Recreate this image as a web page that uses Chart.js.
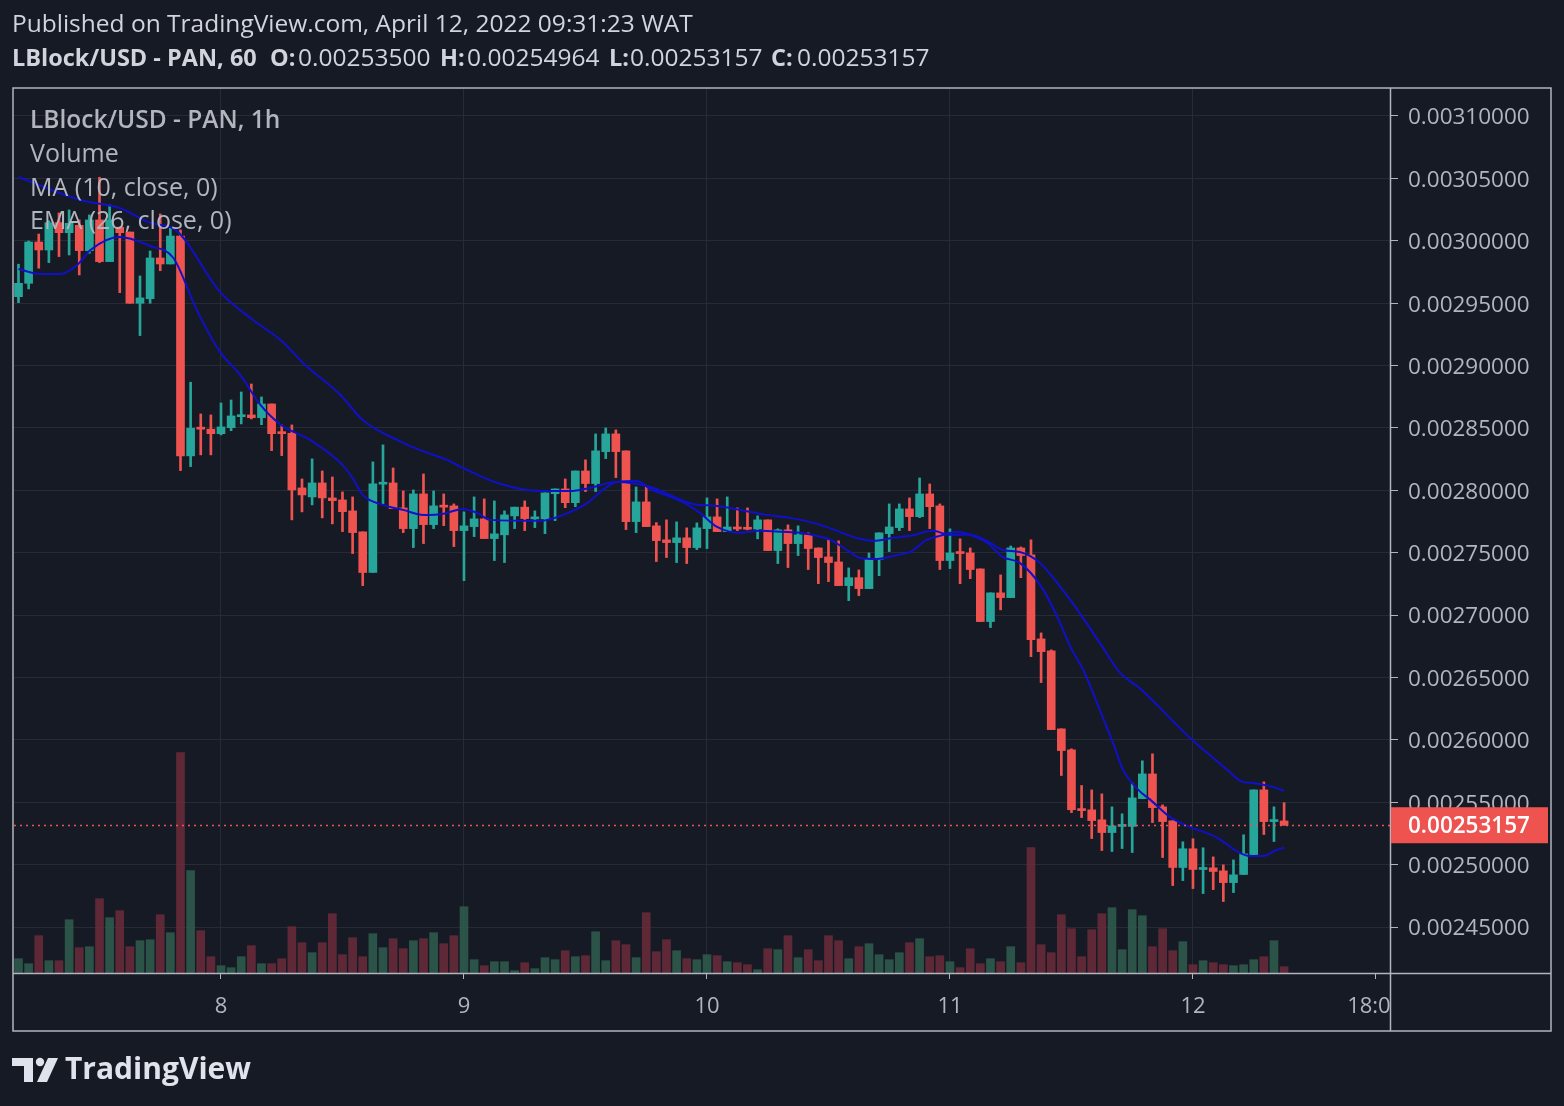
<!DOCTYPE html>
<html>
<head>
<meta charset="utf-8">
<script src="https://cdn.jsdelivr.net/npm/chart.js@4/dist/chart.umd.min.js"></script>
<style>
  html, body { margin: 0; padding: 0; background: #161a25; }
  canvas { display: block; }
</style>
</head>
<body>
<canvas id="chart" width="1564" height="1106"></canvas>
<script>
// hourly candles, 7 Apr 04:00 -> 12 Apr 09:00
const open = [
  0.0029552, 0.0029659, 0.0029990, 0.0029926, 0.0030145, 0.0030065, 0.0030124, 0.0029921, 0.0030167, 0.0029833,
  0.0030108, 0.0030070, 0.0029499, 0.0029536, 0.0029862, 0.0029814, 0.0030038, 0.0028276, 0.0028498, 0.0028490,
  0.0028454, 0.0028502, 0.0028590, 0.0028604, 0.0028582, 0.0028692, 0.0028468, 0.0028457, 0.0028019, 0.0027947,
  0.0028059, 0.0027939, 0.0027923, 0.0027835, 0.0027667, 0.0027341, 0.0028049, 0.0028059, 0.0027859, 0.0027693,
  0.0027971, 0.0027725, 0.0027875, 0.0027875, 0.0027677, 0.0027709, 0.0027771, 0.0027613, 0.0027643, 0.0027795,
  0.0027865, 0.0027771, 0.0027771, 0.0027973, 0.0028011, 0.0027901, 0.0028155, 0.0028054, 0.0028310, 0.0028452,
  0.0028316, 0.0027749, 0.0027907, 0.0027715, 0.0027603, 0.0027581, 0.0027619, 0.0027541, 0.0027693, 0.0027787,
  0.0027669, 0.0027706, 0.0027701, 0.0027690, 0.0027763, 0.0027517, 0.0027683, 0.0027573, 0.0027643, 0.0027538,
  0.0027466, 0.0027426, 0.0027236, 0.0027300, 0.0027212, 0.0027445, 0.0027653, 0.0027701, 0.0027851, 0.0027789,
  0.0027971, 0.0027875, 0.0027437, 0.0027501, 0.0027498, 0.0027370, 0.0026948, 0.0027178, 0.0027140, 0.0027538,
  0.0027482, 0.0026809, 0.0026713, 0.0026088, 0.0025920, 0.0025447, 0.0025439, 0.0025359, 0.0025257, 0.0025306,
  0.0025306, 0.0025529, 0.0025727, 0.0025463, 0.0025351, 0.0024977, 0.0025127, 0.0024961, 0.0024974, 0.0024950,
  0.0024856, 0.0024921, 0.0025081, 0.0025599, 0.0025345, 0.00253500
];
const high = [
  0.0029812, 0.0029998, 0.0030054, 0.0030160, 0.0030223, 0.0030247, 0.0030167, 0.0030207, 0.0030509, 0.0030287,
  0.0030110, 0.0030070, 0.0029718, 0.0029918, 0.0030215, 0.0030103, 0.0030087, 0.0028866, 0.0028612, 0.0028604,
  0.0028700, 0.0028724, 0.0028788, 0.0028852, 0.0028748, 0.0028692, 0.0028524, 0.0028524, 0.0028091, 0.0028252,
  0.0028155, 0.0028107, 0.0027987, 0.0027947, 0.0027667, 0.0028228, 0.0028364, 0.0028179, 0.0027995, 0.0028003,
  0.0028131, 0.0027995, 0.0027971, 0.0027891, 0.0027827, 0.0027947, 0.0027931, 0.0027915, 0.0027835, 0.0027865,
  0.0027915, 0.0027835, 0.0027979, 0.0028011, 0.0028091, 0.0028155, 0.0028244, 0.0028452, 0.0028500, 0.0028484,
  0.0028316, 0.0028027, 0.0028027, 0.0027741, 0.0027763, 0.0027747, 0.0027699, 0.0027739, 0.0027939, 0.0027931,
  0.0027947, 0.0027859, 0.0027859, 0.0027795, 0.0027763, 0.0027691, 0.0027723, 0.0027715, 0.0027659, 0.0027538,
  0.0027603, 0.0027595, 0.0027378, 0.0027362, 0.0027498, 0.0027659, 0.0027891, 0.0027891, 0.0027939, 0.0028099,
  0.0028051, 0.0027891, 0.0027691, 0.0027611, 0.0027538, 0.0027370, 0.0027178, 0.0027322, 0.0027554, 0.0027546,
  0.0027603, 0.0026857, 0.0026721, 0.0026088, 0.0025928, 0.0025634, 0.0025599, 0.0025567, 0.0025463, 0.0025407,
  0.0025655, 0.0025832, 0.0025888, 0.0025479, 0.0025351, 0.0025183, 0.0025207, 0.0025135, 0.0025062, 0.0024998,
  0.0025038, 0.0025239, 0.0025599, 0.0025663, 0.0025463, 0.00254964
];
const low = [
  0.0029504, 0.0029614, 0.0029780, 0.0029825, 0.0029873, 0.0029886, 0.0029726, 0.0029900, 0.0029825, 0.0029833,
  0.0029584, 0.0029499, 0.0029240, 0.0029499, 0.0029760, 0.0029814, 0.0028158, 0.0028190, 0.0028284, 0.0028284,
  0.0028444, 0.0028478, 0.0028532, 0.0028572, 0.0028526, 0.0028318, 0.0028278, 0.0027763, 0.0027827, 0.0027883,
  0.0027779, 0.0027731, 0.0027669, 0.0027493, 0.0027236, 0.0027341, 0.0027893, 0.0027853, 0.0027661, 0.0027541,
  0.0027573, 0.0027693, 0.0027717, 0.0027549, 0.0027276, 0.0027629, 0.0027613, 0.0027437, 0.0027421, 0.0027693,
  0.0027677, 0.0027701, 0.0027653, 0.0027757, 0.0027861, 0.0027869, 0.0027990, 0.0027990, 0.0028254, 0.0028102,
  0.0027685, 0.0027661, 0.0027709, 0.0027429, 0.0027461, 0.0027421, 0.0027413, 0.0027525, 0.0027533, 0.0027669,
  0.0027669, 0.0027677, 0.0027683, 0.0027611, 0.0027517, 0.0027413, 0.0027381, 0.0027477, 0.0027365, 0.0027252,
  0.0027268, 0.0027236, 0.0027116, 0.0027156, 0.0027212, 0.0027316, 0.0027509, 0.0027677, 0.0027677, 0.0027781,
  0.0027693, 0.0027365, 0.0027373, 0.0027252, 0.0027292, 0.0026948, 0.0026900, 0.0027042, 0.0027140, 0.0027300,
  0.0026667, 0.0026459, 0.0026082, 0.0025714, 0.0025417, 0.0025377, 0.0025209, 0.0025113, 0.0025105, 0.0025129,
  0.0025097, 0.0025529, 0.0025337, 0.0025057, 0.0024832, 0.0024872, 0.0024808, 0.0024768, 0.0024800, 0.0024704,
  0.0024776, 0.0024921, 0.0025081, 0.0025241, 0.0025185, 0.00253157
];
const close = [
  0.0029659, 0.0029990, 0.0029926, 0.0030145, 0.0030065, 0.0030140, 0.0029921, 0.0030167, 0.0029833, 0.0030167,
  0.0030065, 0.0029499, 0.0029542, 0.0029862, 0.0029814, 0.0030038, 0.0028276, 0.0028498, 0.0028490, 0.0028454,
  0.0028508, 0.0028596, 0.0028604, 0.0028582, 0.0028692, 0.0028454, 0.0028454, 0.0028003, 0.0027963, 0.0028059,
  0.0027939, 0.0027917, 0.0027829, 0.0027661, 0.0027341, 0.0028051, 0.0028062, 0.0027853, 0.0027693, 0.0027971,
  0.0027725, 0.0027875, 0.0027865, 0.0027677, 0.0027715, 0.0027771, 0.0027613, 0.0027651, 0.0027803, 0.0027865,
  0.0027773, 0.0027781, 0.0027979, 0.0028011, 0.0027901, 0.0028155, 0.0028054, 0.0028316, 0.0028452, 0.0028310,
  0.0027749, 0.0027907, 0.0027709, 0.0027597, 0.0027581, 0.0027619, 0.0027541, 0.0027699, 0.0027787, 0.0027669,
  0.0027706, 0.0027690, 0.0027688, 0.0027763, 0.0027517, 0.0027683, 0.0027573, 0.0027643, 0.0027533, 0.0027461,
  0.0027421, 0.0027236, 0.0027300, 0.0027212, 0.0027453, 0.0027659, 0.0027706, 0.0027851, 0.0027789, 0.0027971,
  0.0027869, 0.0027437, 0.0027498, 0.0027493, 0.0027365, 0.0026948, 0.0027178, 0.0027140, 0.0027538, 0.0027477,
  0.0026803, 0.0026707, 0.0026082, 0.0025914, 0.0025440, 0.0025433, 0.0025353, 0.0025257, 0.0025311, 0.0025314,
  0.0025535, 0.0025727, 0.0025457, 0.0025345, 0.0024977, 0.0025127, 0.0024961, 0.0024974, 0.0024945, 0.0024856,
  0.0024918, 0.0025086, 0.0025599, 0.0025345, 0.0025359, 0.00253157
];
const volume = [
  14.3, 9.3, 37.3, 12.3, 12.3, 53.3, 25.3, 26.3, 74.3, 55.3,
  62.3, 26.3, 32.3, 33.3, 58.3, 40.3, 220.3, 102.3, 42.3, 16.3,
  7.3, 5.3, 16.3, 27.3, 9.3, 9.3, 14.3, 46.3, 30.3, 20.3,
  30.3, 59.3, 18.3, 35.3, 16.3, 39.3, 25.3, 34.3, 24.3, 32.3,
  34.3, 40.3, 29.3, 37.3, 66.3, 13.3, 7.3, 11.3, 11.3, 2.3,
  10.3, 4.3, 15.3, 13.3, 22.3, 16.3, 17.3, 41.3, 12.3, 32.3,
  28.3, 15.3, 60.3, 21.3, 33.3, 22.3, 14.3, 13.3, 18.3, 17.3,
  11.3, 10.3, 8.3, 3.3, 24.3, 23.3, 37.3, 15.3, 23.3, 12.3,
  37.3, 32.3, 14.3, 26.3, 29.3, 18.3, 13.3, 20.3, 30.3, 34.3,
  16.3, 17.3, 11.3, 5.3, 24.3, 9.3, 14.3, 11.3, 26.3, 10.3,
  125.3, 28.3, 20.3, 58.3, 44.3, 16.3, 43.3, 59.3, 65.3, 23.3,
  63.3, 57.3, 26.3, 44.3, 22.3, 31.3, 8.3, 12.3, 10.3, 8.3,
  7.3, 8.3, 13.3, 16.3, 32.3, 6.3
];

// MA(10) and EMA(26) (hour index, price)
const maTime = [0, 2.1, 4.1, 5.8, 7.1, 10.0, 13.0, 15.3, 17.6, 19.9, 21.9, 23.9, 25.8, 28.8, 31.8,
  33.0, 34.0, 36.0, 38.0, 40.0, 41.9, 43.9, 45.3, 46.6, 51.5, 53.8, 56.2, 57.7, 59.1, 61.1,
  62.4, 65.6, 67.3, 69.0, 71.3, 73.2, 75.5, 77.2, 79.2, 80.2, 82.1, 83.1, 84.8, 86.8, 88.1,
  89.7, 91.0, 92.7, 94.0, 95.7, 97.2, 98.9, 101.1, 102.6, 103.9, 105.3, 106.8, 108.1, 109.1, 110.6,
  111.8, 113.7, 115.7, 118.4, 120.6, 121.6, 122.9, 124.3, 125.0];
const maVal = [0.0029774, 0.0029734, 0.0029734, 0.0029806, 0.0029926, 0.0030030, 0.0029958, 0.0029862, 0.0029446, 0.0029109,
  0.0028925, 0.0028684, 0.0028532, 0.0028404, 0.0028220, 0.0028099, 0.0027963, 0.0027883, 0.0027843, 0.0027803,
  0.0027811, 0.0027851, 0.0027819, 0.0027763, 0.0027755, 0.0027803, 0.0027899, 0.0028003, 0.0028067, 0.0028075,
  0.0028011, 0.0027907, 0.0027819, 0.0027707, 0.0027659, 0.0027675, 0.0027667, 0.0027659, 0.0027627, 0.0027603,
  0.0027506, 0.0027458, 0.0027450, 0.0027482, 0.0027506, 0.0027603, 0.0027635, 0.0027667, 0.0027643, 0.0027578,
  0.0027466, 0.0027418, 0.0027218, 0.0026985, 0.0026745, 0.0026537, 0.0026240, 0.0025976, 0.0025759, 0.0025599,
  0.0025519, 0.0025383, 0.0025303, 0.0025215, 0.0025094, 0.0025070, 0.0025070, 0.0025119, 0.0025135];
const emaTime = [0, 6.1, 10.0, 13.0, 15.5, 19.9, 22.9, 26.1, 28.1, 31.8, 34.0, 38.0, 40.4, 42.3, 43.9,
  47.3, 51.5, 54.5, 56.4, 59.1, 62.4, 66.6, 69.0, 71.3, 73.9, 76.2, 79.2, 81.1, 83.1, 84.4,
  86.4, 88.1, 90.3, 92.0, 94.0, 96.0, 97.2, 98.9, 100.9, 102.9, 104.8, 106.8, 108.8, 110.8, 115.9,
  117.4, 119.4, 120.9, 121.9, 123.9, 125.0];
const emaVal = [0.0030511, 0.0030327, 0.0030263, 0.0030143, 0.0030087, 0.0029590, 0.0029381, 0.0029189, 0.0029021, 0.0028764,
  0.0028564, 0.0028380, 0.0028300, 0.0028244, 0.0028179, 0.0028059, 0.0027995, 0.0027995, 0.0028019, 0.0028067,
  0.0028027, 0.0027891, 0.0027875, 0.0027843, 0.0027803, 0.0027779, 0.0027723, 0.0027667, 0.0027611, 0.0027595,
  0.0027619, 0.0027635, 0.0027675, 0.0027643, 0.0027643, 0.0027578, 0.0027522, 0.0027506, 0.0027418, 0.0027226,
  0.0027018, 0.0026777, 0.0026537, 0.0026409, 0.0026000, 0.0025896, 0.0025759, 0.0025663, 0.0025655, 0.0025623,
  0.0025591];

const dayTicks = [20, 44, 68, 92, 116, 134];
const dayLabels = ['8', '9', '10', '11', '12', '18:00'];
const priceTicks = [0.00245, 0.0025, 0.00255, 0.0026, 0.00265, 0.0027, 0.00275,
  0.0028, 0.00285, 0.0029, 0.00295, 0.003, 0.00305, 0.0031];
const lastPrice = 0.00253157;

const UP = '#26a69a', DOWN = '#ef5350';
const BG = '#161a25', GRID = '#272b36', FRAME = '#b2b5be', TXT = '#b2b5be';
const FONT = '"Open Sans", "DejaVu Sans", sans-serif';

const idx = open.map((_, i) => i);
const isUp = i => close[i] >= open[i];
const candleColor = idx.map(i => isUp(i) ? UP : DOWN);
const volColor = idx.map(i => isUp(i) ? 'rgba(47,94,78,0.85)' : 'rgba(108,44,59,0.85)');

const decor = {
  id: 'decor',
  beforeDraw(chart) {
    const c = chart.ctx;
    c.save();
    c.fillStyle = BG;
    c.fillRect(0, 0, chart.width, chart.height);
    c.restore();
  },
  afterDatasetsDraw(chart) {
    const c = chart.ctx, a = chart.chartArea;
    const y = Math.round(chart.scales.y.getPixelForValue(lastPrice)) + 0.5;
    c.save();
    c.strokeStyle = DOWN;
    c.lineWidth = 1.5;
    c.setLineDash([2, 4]);
    c.beginPath();
    c.moveTo(a.left, y);
    c.lineTo(a.right, y);
    c.stroke();
    c.restore();

    // legend in the pane
    c.save();
    c.fillStyle = TXT;
    c.textBaseline = 'middle';
    c.font = '600 24.5px ' + FONT;
    c.fillText('LBlock/USD - PAN, 1h', 30, 121);
    c.font = '25px ' + FONT;
    c.fillText('Volume', 30, 155);
    c.fillText('MA (10, close, 0)', 30, 189);
    c.fillText('EMA (26, close, 0)', 30, 222);
    c.restore();
  },
  afterDraw(chart) {
    const c = chart.ctx, a = chart.chartArea;
    c.save();
    // cut the last time label at the price-scale border
    c.fillStyle = BG;
    c.fillRect(a.right + 1, a.bottom + 1, 170, 57);

    // frame
    c.strokeStyle = FRAME;
    c.lineWidth = 1.5;
    c.strokeRect(13, 88, 1538, 943);
    c.beginPath();
    c.moveTo(a.right + 0.5, 88);
    c.lineTo(a.right + 0.5, 1031);
    c.moveTo(13, a.bottom + 0.5);
    c.lineTo(1551, a.bottom + 0.5);
    c.stroke();

    // last price label
    const py = chart.scales.y.getPixelForValue(lastPrice);
    c.fillStyle = DOWN;
    c.fillRect(a.right + 1, py - 18, 157, 36);
    c.fillStyle = '#ffffff';
    c.font = '600 22.5px ' + FONT;
    c.textBaseline = 'middle';
    c.fillText(lastPrice.toFixed(8), 1408, py + 1);

    // header
    c.fillStyle = '#d1d4dc';
    c.font = '24.5px ' + FONT;
    c.fillText('Published on TradingView.com, April 12, 2022 09:31:23 WAT', 12, 25);
    const parts = [
      ['LBlock/USD - PAN, 60', true, 12], ['O:', true, 270], ['0.00253500', false, 298],
      ['H:', true, 440], ['0.00254964', false, 467], ['L:', true, 609], ['0.00253157', false, 630],
      ['C:', true, 771], ['0.00253157', false, 797]
    ];
    parts.forEach(([t, b, x]) => {
      c.font = b ? '700 23.5px ' + FONT : '24.5px ' + FONT;
      c.fillText(t, x, 59);
    });

    // logo
    c.fillStyle = '#e0e3eb';
    c.beginPath();
    c.moveTo(12, 1058); c.lineTo(33, 1058); c.lineTo(33, 1082); c.lineTo(24, 1082);
    c.lineTo(24, 1066); c.lineTo(12, 1066); c.closePath();
    c.fill();
    c.beginPath();
    c.arc(40, 1062, 4.2, 0, Math.PI * 2);
    c.fill();
    c.beginPath();
    c.moveTo(48, 1058); c.lineTo(58, 1058); c.lineTo(47, 1082); c.lineTo(37, 1082);
    c.closePath();
    c.fill();
    c.font = '700 30px ' + FONT;
    c.fillText('TradingView', 65, 1070);
    c.restore();
  }
};

new Chart(document.getElementById('chart'), {
  type: 'bar',
  data: {
    datasets: [
      {
        type: 'line',
        label: 'MA (10, close, 0)',
        data: maTime.map((t, k) => ({ x: t, y: maVal[k] })),
        borderColor: '#1010c8',
        borderWidth: 2,
        pointRadius: 0,
        cubicInterpolationMode: 'monotone',
        yAxisID: 'y',
        order: 0
      },
      {
        type: 'line',
        label: 'EMA (26, close, 0)',
        data: emaTime.map((t, k) => ({ x: t, y: emaVal[k] })),
        borderColor: '#1010c8',
        borderWidth: 2,
        pointRadius: 0,
        cubicInterpolationMode: 'monotone',
        yAxisID: 'y',
        order: 0
      },
      {
        label: 'body',
        data: idx.map(i => ({ x: i, y: [open[i], close[i]] })),
        backgroundColor: candleColor,
        barThickness: 8,
        minBarLength: 2,
        grouped: false,
        yAxisID: 'y',
        order: 1
      },
      {
        label: 'wick',
        data: idx.map(i => ({ x: i, y: [low[i], high[i]] })),
        backgroundColor: candleColor,
        barThickness: 2,
        grouped: false,
        yAxisID: 'y',
        order: 2
      },
      {
        label: 'Volume',
        data: idx.map(i => ({ x: i, y: volume[i] })),
        backgroundColor: volColor,
        barThickness: 8,
        grouped: false,
        yAxisID: 'vol',
        order: 3
      }
    ]
  },
  options: {
    responsive: false,
    animation: false,
    devicePixelRatio: 1,
    layout: { padding: { left: 14, top: 89, right: 13, bottom: 75 } },
    plugins: { legend: { display: false }, tooltip: { enabled: false } },
    scales: {
      x: {
        type: 'linear',
        min: -0.444,
        max: 135.46,
        offset: false,
        border: { display: false },
        grid: {
          offset: false,
          color: ctx => (ctx.tick && ctx.tick.value === 134) ? 'rgba(0,0,0,0)' : GRID,
          tickColor: FRAME,
          tickLength: 6
        },
        ticks: {
          color: TXT,
          font: { family: FONT, size: 22 },
          padding: 15,
          maxRotation: 0,
          autoSkip: false,
          callback: (v, k) => dayLabels[k]
        },
        afterBuildTicks: s => { s.ticks = dayTicks.map(v => ({ value: v })); },
        afterFit: s => { s.height = 58; }
      },
      y: {
        type: 'linear',
        position: 'right',
        min: 0.00241314,
        max: 0.00312163,
        border: { display: false },
        grid: { color: GRID, tickColor: FRAME, tickLength: 8 },
        ticks: {
          color: TXT,
          font: { family: FONT, size: 22.5 },
          padding: 10,
          labelOffset: 2,
          callback: v => v.toFixed(8)
        },
        afterBuildTicks: s => { s.ticks = priceTicks.map(v => ({ value: v })); },
        afterFit: s => { s.width = 161; }
      },
      vol: { type: 'linear', display: false, min: 0, max: 884 }
    }
  },
  plugins: [decor]
});
</script>
</body>
</html>
